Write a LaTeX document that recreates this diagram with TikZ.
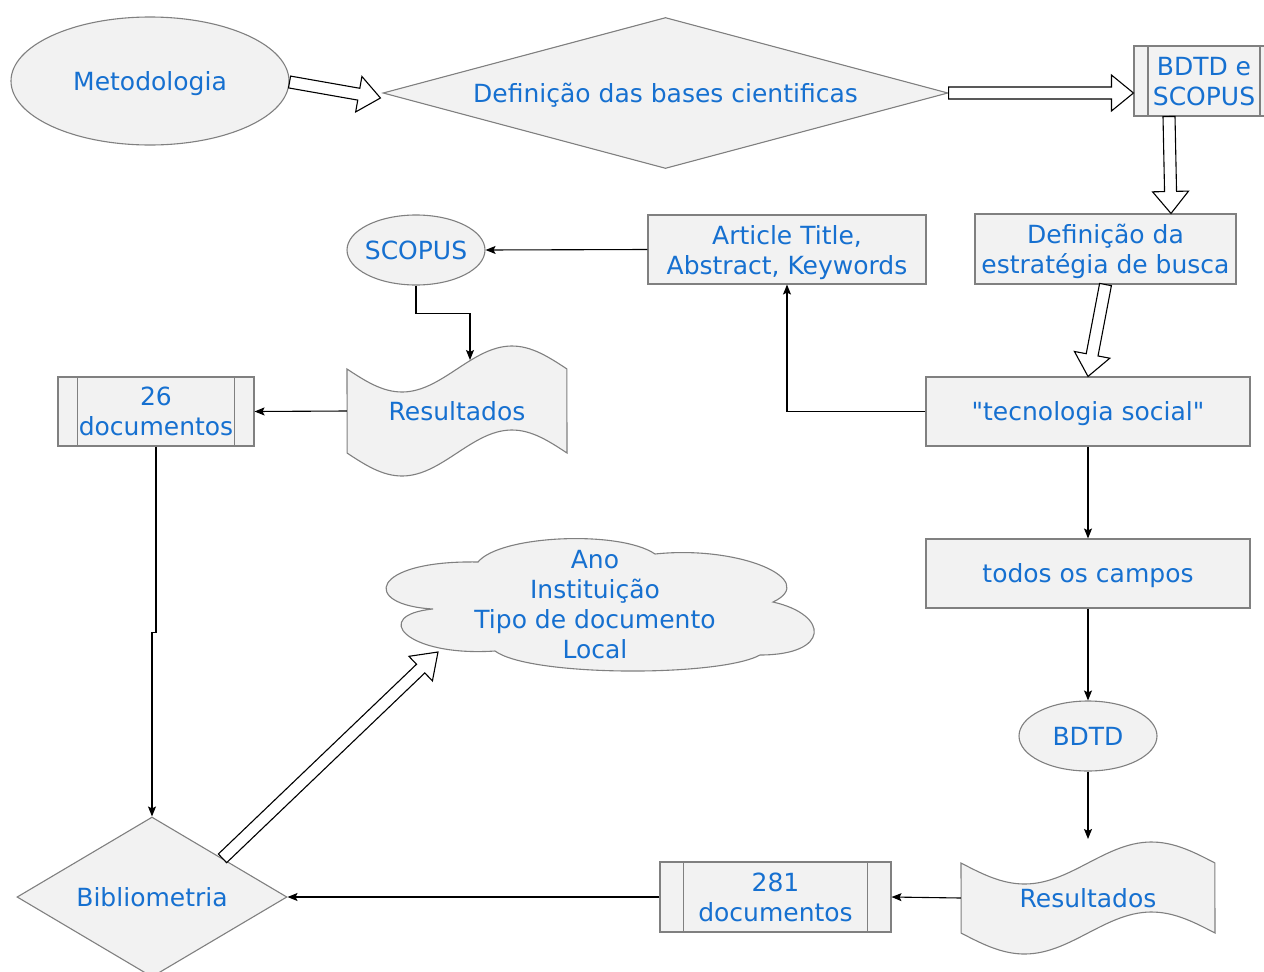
\documentclass[tikz,border=0pt]{standalone}
\usepackage{fontspec}
\setmainfont{DejaVu Sans}[Ligatures=TeXOff]
\usetikzlibrary{shapes.geometric,calc,arrows.meta}
\definecolor{txtblue}{RGB}{22,112,208}
\definecolor{shapegray}{RGB}{128,128,128}
\definecolor{shapefill}{RGB}{242,242,242}
\newcommand\mainsize{\fontsize{25}{30}\selectfont}
\newcommand\blockarrow[5]{%
  \coordinate (bah) at ($(#2)!#5!(#1)$);
  \draw[barrow] ($(#1)!#3!90:(#2)$) -- ($(bah)!#3!90:(#2)$) -- ($(bah)!#4!90:(#2)$) -- (#2) -- ($(bah)!#4!-90:(#2)$) -- ($(bah)!#3!-90:(#2)$) -- ($(#1)!#3!-90:(#2)$) -- cycle;}
\begin{document}
\begin{tikzpicture}[x=1pt,y=-1pt,
  base/.style={draw=shapegray, fill=shapefill, line width=1.1pt, text=txtblue, font=\mainsize, align=center, inner sep=0pt},
  txt/.style={text=txtblue, font=\mainsize, align=center, inner sep=0pt},
  one/.style={text height=18.2pt, text depth=0pt},
  multi/.style={text depth=0pt},
  shapeline/.style={draw=shapegray, fill=shapefill, line width=1.1pt},
  proc/.style={base, path picture={\draw[shapegray, line width=1.1pt] ([xshift=#1]path picture bounding box.south west) -- ([xshift=#1]path picture bounding box.north west) ([xshift=-#1]path picture bounding box.south east) -- ([xshift=-#1]path picture bounding box.north east);}},
  conn/.style={draw=black, line width=1.1pt, -{Stealth[length=10pt,width=8pt,inset=2pt]}},
  barrow/.style={draw=black, fill=white, line width=1.1pt, line join=miter}
]
\useasboundingbox (0,0) rectangle (1264,972);
\clip (0,0) rectangle (1264,972);
\fill[white] (0,0) rectangle (1264,972);

% nodes
\node[base, one, ellipse, minimum width=278pt, minimum height=128pt] (meto) at (150,81) {Metodologia};
\node[base, one, diamond, shape aspect=3.74, minimum width=565pt, minimum height=151pt] (defb) at (665.5,93) {Definição das bases cientificas};
\node[proc=14pt, multi, minimum width=140pt, minimum height=70pt] (bdtds) at (1204,81) {BDTD e\\SCOPUS};
\node[base, multi, minimum width=261pt, minimum height=70pt] (estr) at (1105.5,249) {Definição da\\estratégia de busca};
\node[base, multi, minimum width=278pt, minimum height=69pt] (art) at (787,249.5) {Article Title,\\Abstract, Keywords};
\node[base, ellipse, minimum width=138pt, minimum height=70pt] (scop) at (416,250) {};
\node[txt, one] (scopt) at (scop) {SCOPUS};
\node[base, one, minimum width=324pt, minimum height=69pt] (tec) at (1088,411.5) {"tecnologia social"};
\node[proc=19.6pt, multi, minimum width=196pt, minimum height=69pt] (doc26) at (156,411.5) {26\\documentos};
\node[base, one, minimum width=324pt, minimum height=69pt] (todos) at (1088,573.5) {todos os campos};
\node[base, one, ellipse, minimum width=138pt, minimum height=70pt] (bdtd) at (1088,736) {BDTD};
\node[proc=23.1pt, multi, minimum width=231pt, minimum height=70pt] (doc281) at (775.5,897) {281\\documentos};
\node[base, one, diamond, shape aspect=1.69, minimum width=270pt, minimum height=160pt] (biblio) at (152,897) {Bibliometria};

% tapes
\draw[shapeline] plot[domain=0:1,samples=60] ({347+220*\x},{369+23*sin(360*\x)}) -- plot[domain=1:0,samples=60] ({347+220*\x},{453+23*sin(360*\x)}) -- cycle;
\node[txt, one, minimum width=220pt, minimum height=84pt] (res1) at (457,411) {Resultados};
\draw[shapeline] plot[domain=0:1,samples=60] ({961+254*\x},{863+21*sin(360*\x)}) -- plot[domain=1:0,samples=60] ({961+254*\x},{933+21*sin(360*\x)}) -- cycle;
\node[txt, one, minimum width=254pt, minimum height=70pt] (res2) at (1088,898) {Resultados};

% cloud
\draw[shapeline] (433,609) .. controls (360,605) and (370,560) .. (478,562) .. controls (500,535) and (620,530) .. (655,554) .. controls (740,545) and (820,580) .. (773,602) .. controls (830,615) and (830,655) .. (760,655) .. controls (720,677) and (530,677) .. (495,651) .. controls (405,657) and (370,615) .. (433,609) -- cycle;
\node[txt, multi] (cloudt) at (595,604) {Ano\\Instituição\\Tipo de documento\\Local};

% block arrows
\coordinate (a1s) at ($(meto.east)+(0,1)$);
\coordinate (a1e) at ($(defb.west)+(-2,5)$);
\blockarrow{a1s}{a1e}{6pt}{18pt}{22pt}
\coordinate (a2e) at ($(bdtds.west)+(0,12)$);
\blockarrow{defb.east}{a2e}{6pt}{18pt}{22pt}
\coordinate (a3s) at ($(bdtds.south)+(-35,0)$);
\coordinate (a3e) at ($(estr.north)+(65.5,0)$);
\blockarrow{a3s}{a3e}{6pt}{18pt}{22pt}
\blockarrow{estr.south}{tec.north}{6pt}{18pt}{22pt}
\coordinate (a5s) at ($(biblio.north)!0.52!(biblio.east)$);
\coordinate (cloudtip) at (438,652);
\blockarrow{a5s}{cloudtip}{6pt}{17pt}{24pt}

% connectors
\draw[conn] (tec.west) -| (art.south);
\draw[conn] (art.west) -- (scop.east);
\coordinate (res1top) at (470,360);
\draw[conn] (scop.south) -- ++(0,28) -| (res1top);
\draw[conn] (res1.west) -- (doc26.east);
\draw[conn] (doc26.south) -- ++(0,186) -| (biblio.north);
\draw[conn] (tec.south) -- (todos.north);
\draw[conn] (todos.south) -- (bdtd.north);
\coordinate (res2top) at (1088,839);
\draw[conn] (bdtd.south) -- (res2top);
\draw[conn] (res2.west) -- (doc281.east);
\draw[conn] (doc281.west) -- (biblio.east);
\end{tikzpicture}
\end{document}
